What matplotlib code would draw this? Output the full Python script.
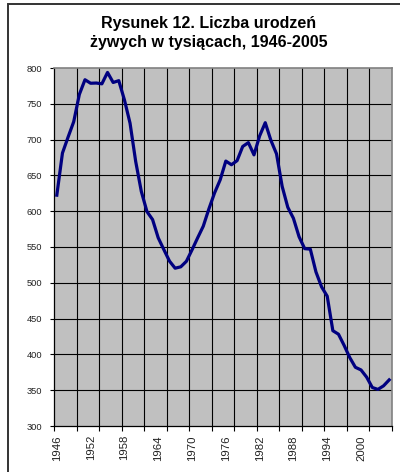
import matplotlib
matplotlib.use("Agg")
import matplotlib.pyplot as plt
from matplotlib.patches import Rectangle

years = list(range(1946, 2006))
births = [622.4, 681.2, 703.5, 725.0, 763.1, 783.6, 778.7, 779.0, 777.9, 793.8,
          779.8, 782.3, 755.5, 722.9, 669.5, 627.6, 599.5, 588.3, 562.8, 546.4,
          530.3, 520.4, 522.3, 530.0, 546.0, 562.8, 579.1, 603.3, 625.5, 643.8,
          670.0, 664.9, 670.6, 690.4, 695.8, 678.7, 705.1, 723.6, 699.0, 680.1,
          634.7, 605.5, 590.1, 564.4, 547.7, 547.0, 515.2, 494.3, 481.3, 433.1,
          428.2, 412.6, 395.6, 382.0, 378.3, 368.2, 353.8, 351.1, 356.1, 364.4]
label_years = [1946, 1952, 1958, 1964, 1970, 1976, 1982, 1988, 1994, 2000]
yticks = [300, 350, 400, 450, 500, 550, 600, 650, 700, 750, 800]
title = "Rysunek 12. Liczba urodzeń\nżywych w tysiącach, 1946-2005"

plt.rcParams['font.family'] = ['Liberation Sans', 'DejaVu Sans']

W, H = 400, 472
fig = plt.figure(figsize=(W / 100, H / 100), dpi=100)

# outer frame (cut off at right and bottom)
fig.patches.append(Rectangle((8 / W, -0.05), 1.2, 1 - 4 / H + 0.05,
                             transform=fig.transFigure, fill=False,
                             edgecolor='#333333', linewidth=1.4))

ax = fig.add_axes([54 / W, (H - 426) / H, (392 - 54) / W, (426 - 68) / H])
ax.set_facecolor('#C0C0C0')
ax.plot(years, births, color='#000080', linewidth=2.3, solid_joinstyle='round', zorder=3)

ax.set_xlim(years[0] - 0.5, years[-1] + 0.5)
ax.set_ylim(300, 800)
ax.set_yticks(yticks)
ax.set_yticklabels([str(v) for v in yticks], fontsize=6.7, color='#222222')

grid_x = [years[0] - 0.5 + 4 * k for k in range(16)]
ax.set_xticks(grid_x)
ax.set_xticklabels([])
ax.set_xticks(label_years, minor=True)
ax.set_xticklabels([str(y) for y in label_years], minor=True, rotation=90,
                   fontsize=8.2, color='#222222')
ax.tick_params(axis='x', which='major', length=3.5, width=0.8, color='black', direction='out')
ax.tick_params(axis='x', which='minor', length=0, pad=6.5)
ax.tick_params(axis='y', length=3, width=0.8, direction='out', pad=5.5)

for gx in grid_x[1:-1]:
    ax.axvline(gx, color='black', linewidth=0.8, zorder=1)
for gy in yticks[1:-1]:
    ax.axhline(gy, color='black', linewidth=0.8, zorder=1)

for s in ['top', 'right']:
    ax.spines[s].set_color('#808080')
    ax.spines[s].set_linewidth(1.2)
for s in ['left', 'bottom']:
    ax.spines[s].set_color('black')
    ax.spines[s].set_linewidth(0.9)

fig.text(209 / W, 1 - 33 / H, title, ha='center', va='center', fontsize=11.5,
         fontweight='bold', linespacing=1.4)

fig.savefig('out.png', dpi=100)
